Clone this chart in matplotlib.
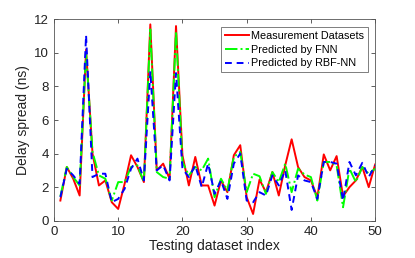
import matplotlib
matplotlib.use("Agg")
import matplotlib.pyplot as plt
import numpy as np

idx = list(range(1, 51))
measured = [1.2, 3.2, 2.5, 1.5, 10.2, 4.0, 2.1, 2.4, 1.1, 0.7,
            2.2, 3.9, 3.2, 2.3, 11.7, 3.0, 3.4, 2.5, 11.6, 3.9,
            2.1, 3.8, 2.1, 2.1, 0.9, 2.4, 1.7, 3.9, 4.5, 1.4,
            0.4, 2.45, 1.7, 2.9, 1.5, 3.3, 4.85, 3.2, 2.6, 2.4,
            1.4, 3.95, 3.0, 3.85, 1.45, 2.0, 2.4, 3.2, 2.0, 3.35]
fnn = [1.45, 3.2, 2.6, 2.1, 10.0, 4.1, 2.7, 2.5, 1.2, 2.3,
       2.3, 3.2, 3.3, 2.3, 11.4, 2.9, 2.6, 2.5, 11.3, 3.5,
       2.7, 3.2, 3.0, 3.7, 1.4, 2.5, 1.8, 3.8, 4.1, 1.7,
       2.8, 2.65, 1.6, 2.9, 2.3, 3.4, 1.7, 3.1, 2.75, 2.6,
       1.2, 3.5, 3.5, 3.3, 0.8, 3.1, 2.3, 3.2, 2.8, 3.1]
rbf = [1.4, 3.1, 2.7, 2.2, 11.05, 2.6, 2.8, 2.8, 1.1, 1.3,
       1.9, 3.1, 3.7, 2.4, 8.9, 3.0, 3.3, 2.4, 8.8, 3.1,
       2.6, 3.3, 2.0, 3.4, 1.6, 2.4, 1.3, 3.4, 4.0, 1.2,
       1.1, 1.7, 1.5, 2.7, 2.1, 3.0, 0.64, 2.7, 2.4, 2.3,
       1.3, 3.5, 3.5, 3.4, 1.2, 3.5, 2.7, 3.45, 2.6, 3.3]

plt.rcParams['font.family'] = ['Liberation Sans', 'DejaVu Sans']
fig = plt.figure(figsize=(4.15, 2.58), dpi=100)
ax = fig.add_axes([0.130, 0.1446, 0.774, 0.7804])

ax.plot(idx, measured, color='#ff0000', lw=1.4, label='Measurement Datasets')
ax.plot(idx, fnn, color='#00ff00', lw=1.4, ls='-.', label='Predicted by FNN')
ax.plot(idx, rbf, color='#0000ff', lw=1.4, ls=(0, (3.5, 2.5)), label='Predicted by RBF-NN')

ax.set_xlim(0, 50)
ax.set_ylim(0, 12)
ax.set_xticks(range(0, 51, 10))
ax.set_yticks(range(0, 13, 2))
ax.tick_params(direction='in', top=True, right=True, length=3, labelsize=9.5,
               color='#444444', labelcolor='#222222', width=0.6)
for s in ax.spines.values():
    s.set_color('#555555')
    s.set_linewidth(0.6)
ax.set_xlabel('Testing dataset index', fontsize=10, color='#222222', labelpad=1)
ax.set_ylabel('Delay spread (ns)', fontsize=10, color='#222222', labelpad=3)

leg = ax.legend(loc='upper right', fontsize=7.8, frameon=True, fancybox=False,
                edgecolor='#444444', handlelength=2.2, handletextpad=0.2,
                borderpad=0.35, labelspacing=0.35, borderaxespad=0.7)
leg.get_frame().set_linewidth(0.6)

fig.savefig('out.png', dpi=100)
